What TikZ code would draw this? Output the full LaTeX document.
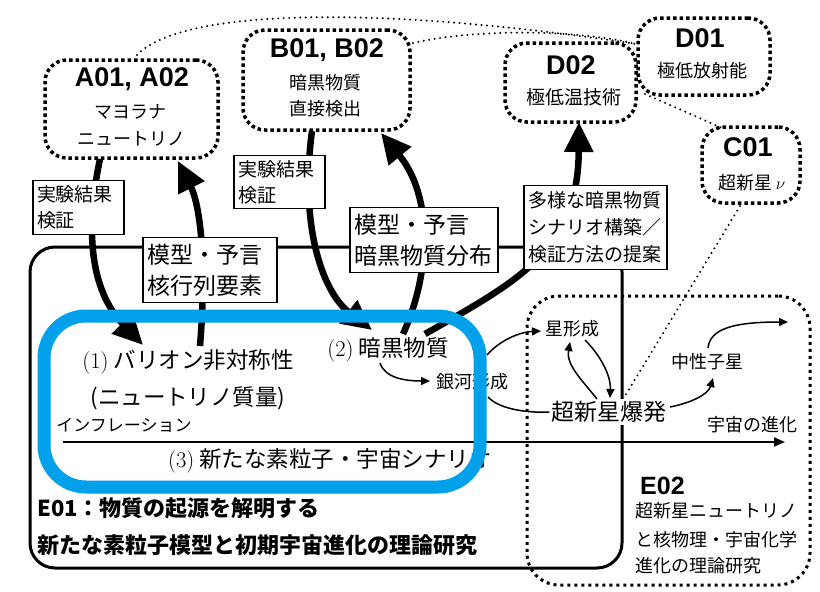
\documentclass[tikz,border=0pt]{standalone}
\usepackage{fontspec}
\newfontfamily\jp{Noto Sans CJK JP}
\newfontfamily\hdfont{Liberation Sans}
\usetikzlibrary{arrows.meta}
\definecolor{eblue}{RGB}{0,160,235}
\begin{document}
\begin{tikzpicture}[x=1pt,y=-1pt,
  dbox/.style={draw, line width=3.5pt, dash pattern=on 3.5pt off 3pt, rounded corners=22pt, inner sep=0pt},
  headtxt/.style={font=\hdfont\bfseries\fontsize{27}{27}\selectfont, inner sep=0pt},
  subtxt/.style={font=\jp\fontsize{18}{18}\selectfont, inner sep=0pt},
  labs/.style={draw, line width=1.2pt, fill=white, inner xsep=4pt, inner ysep=5pt, align=left, text width=83pt, font=\jp\fontsize{19}{26}\selectfont},
  labb/.style={draw, line width=1.2pt, fill=white, inner xsep=4pt, inner ysep=6pt, align=left, font=\jp\fontsize{23}{31}\selectfont},
  thickarr/.style={line width=6.5pt, -{Triangle[length=30pt,width=28pt]}},
  thinarr/.style={line width=1.5pt, -{Triangle[length=9pt,width=8pt]}},
  thindot/.style={line width=2.2pt, line cap=round, dash pattern=on 0pt off 5.5pt},
  txt/.style={inner sep=0pt, font=\jp\fontsize{18}{18}\selectfont},
  bigtxt/.style={inner sep=0pt, font=\jp\fontsize{22.5}{22.5}\selectfont},
  boldtxt/.style={inner sep=0pt, anchor=west, font=\jp\bfseries\fontsize{22}{22}\selectfont},
]
\useasboundingbox (0,0) rectangle (820,592);

% E01 and E02 frames
\node[draw, line width=3pt, rounded corners=25pt, minimum width=592pt, minimum height=321pt, inner sep=0pt] (E01) at (326,407.5) {};
\node[draw, line width=3pt, dash pattern=on 3pt off 4pt, rounded corners=32pt, minimum width=283pt, minimum height=289pt, inner sep=0pt] (E02) at (668.5,440.5) {};

% top boxes
\node[dbox, minimum width=173pt, minimum height=98pt] (A) at (131.5,109) {};
\node[headtxt] (Ah) at (132,79) {A01, A02};
\node[subtxt] (A1) at (130,112) {マヨラナ};
\node[subtxt] (A2) at (131,139) {ニュートリノ};

\node[dbox, minimum width=167pt, minimum height=100pt] (B) at (326.5,80) {};
\node[headtxt] (Bh) at (327,50) {B01, B02};
\node[subtxt] (B1) at (325,83) {暗黒物質};
\node[subtxt] (B2) at (325,109) {直接検出};

\node[dbox, minimum width=131pt, minimum height=79pt] (D2) at (570.5,82.5) {};
\node[headtxt] (D2h) at (571,65) {D02};
\node[subtxt, font=\jp\fontsize{19}{19}\selectfont] (D21) at (574,97.5) {極低温技術};

\node[dbox, minimum width=132pt, minimum height=77pt] (D1) at (704,56.5) {};
\node[headtxt] (D1h) at (700,38) {D01};
\node[subtxt] (D11) at (702,71) {極低放射能};

\node[dbox, minimum width=98pt, minimum height=76pt] (C) at (751,165) {};
\node[headtxt] (Ch) at (748,147) {C01};
\node[subtxt] (C1) at (752,183) {超新星\,$\nu$};

% thin dotted links
\coordinate (pA) at (137,55);
\coordinate (pB) at (413,43);
\coordinate (pD1) at (636,44);
\coordinate (pD1b) at (645,94);
\coordinate (pCt) at (722,128);
\coordinate (pCb) at (740,206);
\coordinate (pSN) at (625,396);
\draw[thindot] (pA) .. controls (185,5) and (400,8) .. (pD1);
\draw[thindot] (pB) .. controls (480,28) and (580,30) .. (pD1);
\draw[thindot] (pD1b) -- (pCt);
\draw[thindot] (pCb) -- (pSN);

% main texts
\node[bigtxt] (t1) at (188,362) {{\rmfamily (1)} バリオン非対称性};
\node[bigtxt] (t1b) at (188,398) {(ニュートリノ質量)};
\node[txt, font=\jp\fontsize{17}{17}\selectfont] (inf) at (124,425) {インフレーション};
\node[bigtxt] (t3) at (330,461) {{\rmfamily (3)} 新たな素粒子・宇宙シナリオ};
\node[bigtxt] (t2) at (388,350) {{\rmfamily (2)} 暗黒物質};
\node[txt] (gal) at (472,382) {銀河形成};
\node[txt] (star) at (572,329) {星形成};
\node[txt] (ns) at (707,362) {中性子星};
\node[txt] (evo) at (752,425) {宇宙の進化};

% time axis
\coordinate (ax0) at (63,442);
\coordinate (ax1) at (785,442);
\draw[line width=2pt, -{Triangle[length=11pt,width=9pt]}] (ax0) -- (ax1);

\node[bigtxt, fill=white, inner sep=2pt, font=\jp\fontsize{23}{23}\selectfont] (sn) at (609,412) {超新星爆発};

% thick arrows
\coordinate (a1s) at (100,159);
\coordinate (a1e) at (143,345);
\coordinate (a2s) at (200,346);
\coordinate (a2e) at (178,161);
\coordinate (b1s) at (312,131);
\coordinate (b1e) at (372,330);
\coordinate (b2s) at (403,334);
\coordinate (b2e) at (381,133);
\coordinate (d2s) at (425,334);
\coordinate (d2e) at (579,122);
\draw[thickarr] (a1s) .. controls (85,230) and (90,290) .. (a1e);
\draw[thickarr] (a2s) .. controls (207,260) and (200,205) .. (a2e);
\draw[thickarr] (b1s) .. controls (300,220) and (320,290) .. (b1e);
\draw[thickarr] (b2s) .. controls (432,270) and (432,195) .. (b2e);
\draw[thickarr] (d2s) .. controls (520,280) and (578,250) .. (d2e);

% labels
\node[labs] (L1) at (78.5,207.5) {実験結果\\検証};
\node[labs] (L3) at (279.5,182) {実験結果\\検証};
\node[labb, text width=126pt] (L2) at (210,270) {模型・予言\\核行列要素};
\node[labb, text width=140pt] (L4) at (424,240) {模型・予言\\暗黒物質分布};
\node[labs, text width=135pt, inner ysep=6pt, font=\jp\fontsize{19}{27}\selectfont] (L5) at (595.5,227.5) {多様な暗黒物質\\シナリオ構築／\\検証方法の提案};

% small arrows
\coordinate (s1s) at (380,363);
\coordinate (s1e) at (430,381);
\coordinate (s2s) at (487,355);
\coordinate (s2e) at (541,331);
\coordinate (s3s) at (488,397);
\coordinate (s4s) at (597,399);
\coordinate (s4e) at (570,342);
\coordinate (s5s) at (585,340);
\coordinate (s5e) at (610,398);
\coordinate (s6s) at (670,407);
\coordinate (s6e) at (713,378);
\coordinate (s7s) at (708,348);
\coordinate (s7e) at (788,322);
\draw[thinarr] (s1s) .. controls (385,378) and (405,381) .. (s1e);
\draw[thinarr] (s2s) .. controls (500,340) and (520,332) .. (s2e);
\draw[line width=1.5pt] (s3s) .. controls (500,410) and (530,413) .. (sn.west);
\draw[thinarr] (s4s) .. controls (582,380) and (566,365) .. (s4e);
\draw[thinarr] (s5s) .. controls (600,355) and (611,375) .. (s5e);
\draw[thinarr] (s6s) .. controls (690,403) and (708,395) .. (s6e);
\draw[thinarr] (s7s) .. controls (710,330) and (730,322) .. (s7e);

% E02 texts
\node[inner sep=0pt, anchor=west, font=\hdfont\bfseries\fontsize{25}{25}\selectfont] (E02h) at (640,486) {E02};
\node[txt, anchor=west] (E02a) at (635,511) {超新星ニュートリノ};
\node[txt, anchor=west] (E02b) at (635,540) {と核物理・宇宙化学};
\node[txt, anchor=west] (E02c) at (635,566) {進化の理論研究};

% E01 texts
\node[boldtxt] (E01a) at (37,508) {E01：物質の起源を解明する};
\node[boldtxt] (E01b) at (37,545) {新たな素粒子模型と初期宇宙進化の理論研究};

% blue core frame (on top)
\node[draw=eblue, line width=13pt, rounded corners=42pt, minimum width=436pt, minimum height=171pt, inner sep=0pt] (core) at (262,401.5) {};
\end{tikzpicture}
\end{document}
